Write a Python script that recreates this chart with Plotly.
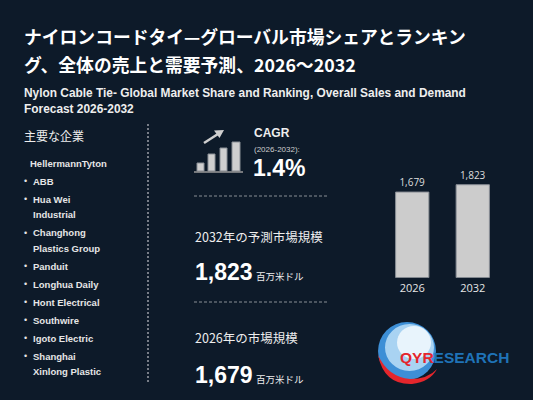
import plotly.graph_objects as go

W, H = 533, 400

# data
years = ["2026", "2032"]
market_size = [1679, 1823]
cagr = "1.4%"
companies = ["ABB", "Hua Wei<br>Industrial", "Changhong<br>Plastics Group", "Panduit",
             "Longhua Daily", "Hont Electrical", "Southwire", "Igoto Electric",
             "Shanghai<br>Xinlong Plastic"]
top_company = "HellermannTyton"

BG = "#0d1a29"
JP = "Noto Sans CJK JP"
SANS = "Liberation Sans, Arial, Noto Sans CJK JP"


def px_x(x):
    return x / W


def px_y(y):
    return 1 - y / H


fig = go.Figure()

fig.add_trace(go.Bar(
    x=years, y=market_size,
    width=0.55,
    marker=dict(color="#cccccc", line=dict(color="#8a8f96", width=1)),
    text=[f"{v:,}" for v in market_size],
    textposition="outside",
    textfont=dict(family="Open Sans", size=10, color="#dddddd"),
    cliponaxis=False,
    hoverinfo="skip",
))

fig.update_xaxes(domain=[px_x(382), px_x(503)], showgrid=False, showline=False, zeroline=False,
                 tickfont=dict(family="Open Sans", size=11, color="#e6e6e6"), ticks="", ticklabelstandoff=2)
fig.update_yaxes(domain=[px_y(277.7), px_y(175.7)], range=[0, 2000], visible=False)

ann = []


def txt(x, y, s, size, color="#ffffff", bold=False, family=SANS, anchor="left"):
    if bold:
        s = "<b>" + s + "</b>"
    ann.append(dict(x=px_x(x), y=px_y(y), xref="paper", yref="paper", text=s, showarrow=False,
                    xanchor=anchor, yanchor="middle", align="left",
                    font=dict(family=family, size=size, color=color)))


# title
txt(22, 36, "ナイロンコードタイ—グローバル市場シェアとランキン", 17.8, bold=True, family=JP)
txt(22, 64, "グ、全体の売上と需要予測、2026～2032", 17.8, bold=True, family=JP)
txt(22, 93, "Nylon Cable Tie- Global Market Share and Ranking, Overall Sales and Demand", 11.9, "#eeeeee", True)
txt(22, 109, "Forecast 2026-2032", 11.9, "#eeeeee", True)

# companies
txt(22, 135, "主要な企業", 12, "#eeeeee", family=JP)
txt(28, 163, top_company, 9.5, "#e6e6e6", True)
y = 181
for c in companies:
    txt(22, y, "•", 9, "#e6e6e6")
    lines = c.split("<br>")
    for ln in lines:
        txt(31, y, ln, 9.5, "#e6e6e6", True)
        y += 15.5
    y += 2.5

# CAGR block
txt(252, 133, "CAGR", 12, "#eeeeee", True)
txt(252, 149, "(2026-2032):", 8, "#cccccc")
txt(251, 168, cagr, 23, "#ffffff", True)

txt(193, 236, "2032年の予測市場規模", 12.5, "#eeeeee", family=JP)
txt(193, 272, f"{market_size[1]:,}", 23, "#ffffff", True)
txt(254, 276, "百万米ドル", 9.5, "#eeeeee", family=JP)

txt(193, 337, "2026年の市場規模", 12.5, "#eeeeee", family=JP)
txt(193, 375, f"{market_size[0]:,}", 23, "#ffffff", True)
txt(254, 379, "百万米ドル", 9.5, "#eeeeee", family=JP)

# logo text
ann.append(dict(x=px_x(398), y=px_y(357), xref="paper", yref="paper", showarrow=False,
                xanchor="left", yanchor="middle",
                text="<b><span style='color:#e4262c'>QYR</span><span style='color:#1f73b7'>ESEARCH</span></b>",
                font=dict(family="Liberation Sans, Arial", size=15.5)))

shapes = []


def rect(x0, y0, x1, y1, fill, line="#8a8f96"):
    shapes.append(dict(type="rect", xref="paper", yref="paper", x0=px_x(x0), x1=px_x(x1),
                       y0=px_y(y0), y1=px_y(y1), fillcolor=fill, line=dict(color=line, width=1)))


def line(x0, y0, x1, y1, color, width=1, dash="solid"):
    shapes.append(dict(type="line", xref="paper", yref="paper", x0=px_x(x0), x1=px_x(x1),
                       y0=px_y(y0), y1=px_y(y1), line=dict(color=color, width=width, dash=dash)))


# separators
line(148, 124, 148, 383, "#9a9fa6", 1.5, "2px,2px")
line(194, 196, 329, 196, "#8a8f96", 1, "3px,2px")
line(194, 302, 329, 302, "#8a8f96", 1, "3px,2px")

# growth icon
rect(197, 163, 204, 171, "#cfcfcf")
rect(208, 154, 215, 171, "#cfcfcf")
rect(220, 148, 227, 171, "#cfcfcf")
rect(232, 142, 240, 171, "#cfcfcf")
line(194, 172, 243, 172, "#9a9a9a", 1.5)
line(204, 143, 218, 134, "#cfcfcf", 2.5)
shapes.append(dict(type="path", xref="paper", yref="paper",
                   path=f"M {px_x(224)} {px_y(130)} L {px_x(214)} {px_y(130.5)} L {px_x(219.5)} {px_y(138)} Z",
                   fillcolor="#cfcfcf", line=dict(width=0)))

# globe logo
cx, cy, r = 407, 351, 29
shapes.append(dict(type="circle", xref="paper", yref="paper", x0=px_x(cx - r), x1=px_x(cx + r),
                   y0=px_y(cy - r), y1=px_y(cy + r), fillcolor="#3d8fd6", line=dict(width=0), layer="below"))
shapes.append(dict(type="circle", xref="paper", yref="paper", x0=px_x(cx - 22), x1=px_x(cx + 27),
                   y0=px_y(cy - 27), y1=px_y(cy + 20), fillcolor="#a9d3f2", line=dict(width=0),
                   layer="below"))
shapes.append(dict(type="circle", xref="paper", yref="paper", x0=px_x(cx - 10), x1=px_x(cx + 24),
                   y0=px_y(cy - 25), y1=px_y(cy + 8), fillcolor="#e8f4fc", line=dict(width=0),
                   layer="below"))
shapes.append(dict(type="path", xref="paper", yref="paper",
                   path=(f"M {px_x(378)} {px_y(355)} Q {px_x(384)} {px_y(385)} {px_x(412)} {px_y(384)} "
                         f"Q {px_x(430)} {px_y(382)} {px_x(437)} {px_y(369)} "
                         f"Q {px_x(428)} {px_y(379)} {px_x(410)} {px_y(379)} "
                         f"Q {px_x(388)} {px_y(377)} {px_x(378)} {px_y(355)} Z"),
                   fillcolor="#e4262c", line=dict(width=0), layer="below"))

fig.update_layout(
    width=W, height=H,
    margin=dict(l=0, r=0, t=0, b=0),
    paper_bgcolor=BG, plot_bgcolor=BG,
    showlegend=False,
    annotations=ann,
    shapes=shapes,
)

fig.write_html("out.html", config={"displayModeBar": False},
               post_script="document.body.style.margin='0';document.body.style.overflow='hidden';")
